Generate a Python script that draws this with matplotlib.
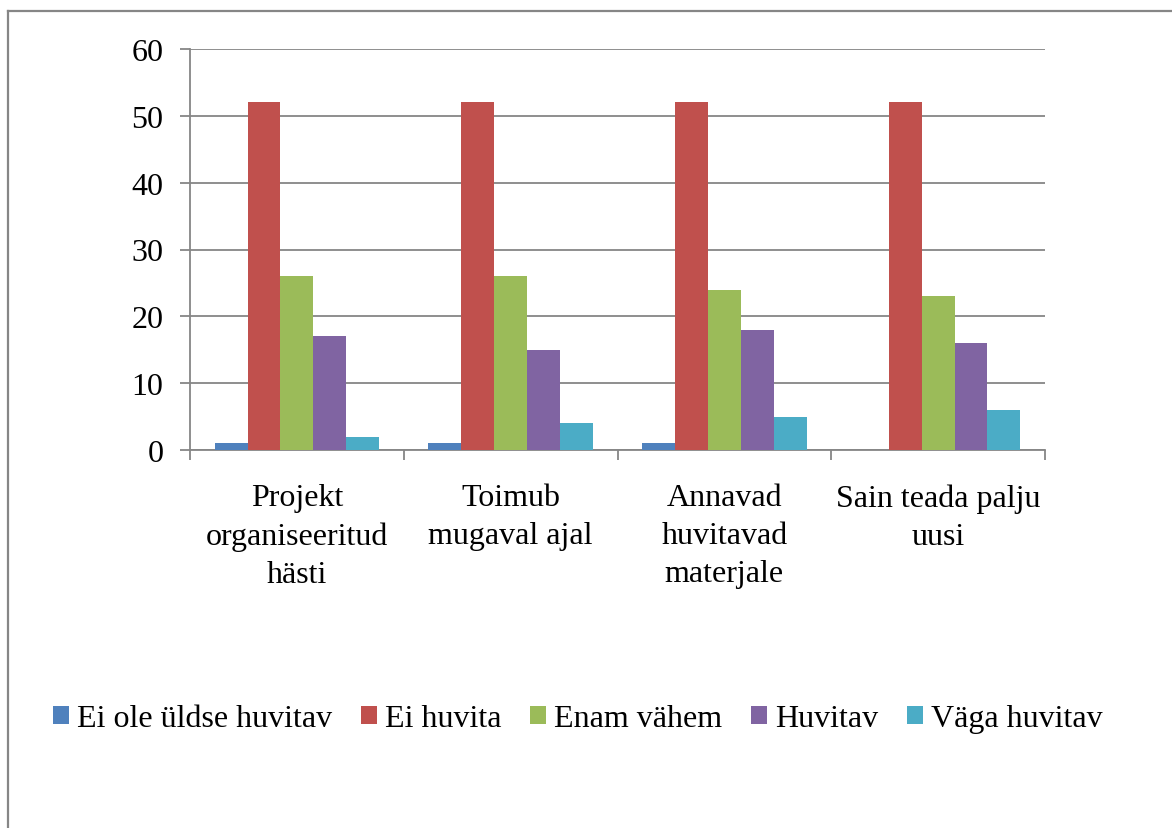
import matplotlib
matplotlib.use("Agg")
import matplotlib.pyplot as plt
import numpy as np
from matplotlib.lines import Line2D
from matplotlib.patches import Patch

plt.rcParams["font.family"] = ["Liberation Serif", "DejaVu Serif"]

# data
categories = ["Projekt\norganiseeritud\nhästi", "Toimub\nmugaval ajal",
              "Annavad\nhuvitavad\nmaterjale", "Sain teada palju\nuusi"]
series = ["Ei ole üldse huvitav", "Ei huvita", "Enam vähem", "Huvitav", "Väga huvitav"]
ei_ole = [1, 1, 1, 0]
ei_huvita = [52, 52, 52, 52]
enam_vahem = [26, 26, 24, 23]
huvitav = [17, 15, 18, 16]
vaga_huvitav = [2, 4, 5, 6]
values = [ei_ole, ei_huvita, enam_vahem, huvitav, vaga_huvitav]
colors = ["#4F81BD", "#C0504D", "#9BBB59", "#8064A2", "#4BACC6"]

grid_col = "#868686"
fs = 23

fig = plt.figure(figsize=(11.72, 8.29), dpi=100)
ax = fig.add_axes([190 / 1172, 1 - 451 / 829, 855 / 1172, 401 / 829])

n = len(series)
bw = 1 / (n + 1.5)  # gap width 150 %
x = np.arange(len(categories))
for i, (vals, c) in enumerate(zip(values, colors)):
    ax.bar(x + (i - (n - 1) / 2) * bw, vals, width=bw, color=c, zorder=3)

ax.set_xlim(-0.5, len(categories) - 0.5)
ax.set_ylim(0, 60)
ax.set_yticks(range(0, 61, 10))
ax.yaxis.grid(True, color=grid_col, lw=1.3, zorder=0)

ax.set_xticks(x)
ax.set_xticklabels(categories, fontsize=fs, linespacing=1.4)
ax.set_xticks(np.arange(len(categories) + 1) - 0.5, minor=True)
ax.tick_params(axis="x", which="major", length=0, pad=24)
ax.tick_params(axis="x", which="minor", length=7, width=1.3, color=grid_col, direction="out")
ax.tick_params(axis="y", length=7, width=1.3, color=grid_col, direction="out",
               labelsize=fs, pad=12)

for s in ["top", "right"]:
    ax.spines[s].set_visible(False)
for s in ["left", "bottom"]:
    ax.spines[s].set_color(grid_col)
    ax.spines[s].set_linewidth(1.3)

handles = [Patch(facecolor=c, edgecolor="none") for c in colors]
fig.legend(handles, series, loc="center", bbox_to_anchor=(578 / 1172, 1 - 720 / 829),
           ncol=5, frameon=False, fontsize=fs, handlelength=0.5, handleheight=0.5,
           handletextpad=0.25, columnspacing=0.9)

# outer chart border (only left and top edges are visible in the frame)
fig.add_artist(Line2D([8 / 1172, 8 / 1172], [0, 1 - 12 / 829], color=grid_col, lw=1.6))
fig.add_artist(Line2D([8 / 1172, 1], [1 - 12 / 829, 1 - 12 / 829], color=grid_col, lw=1.6))

fig.savefig("out.png", dpi=100)
